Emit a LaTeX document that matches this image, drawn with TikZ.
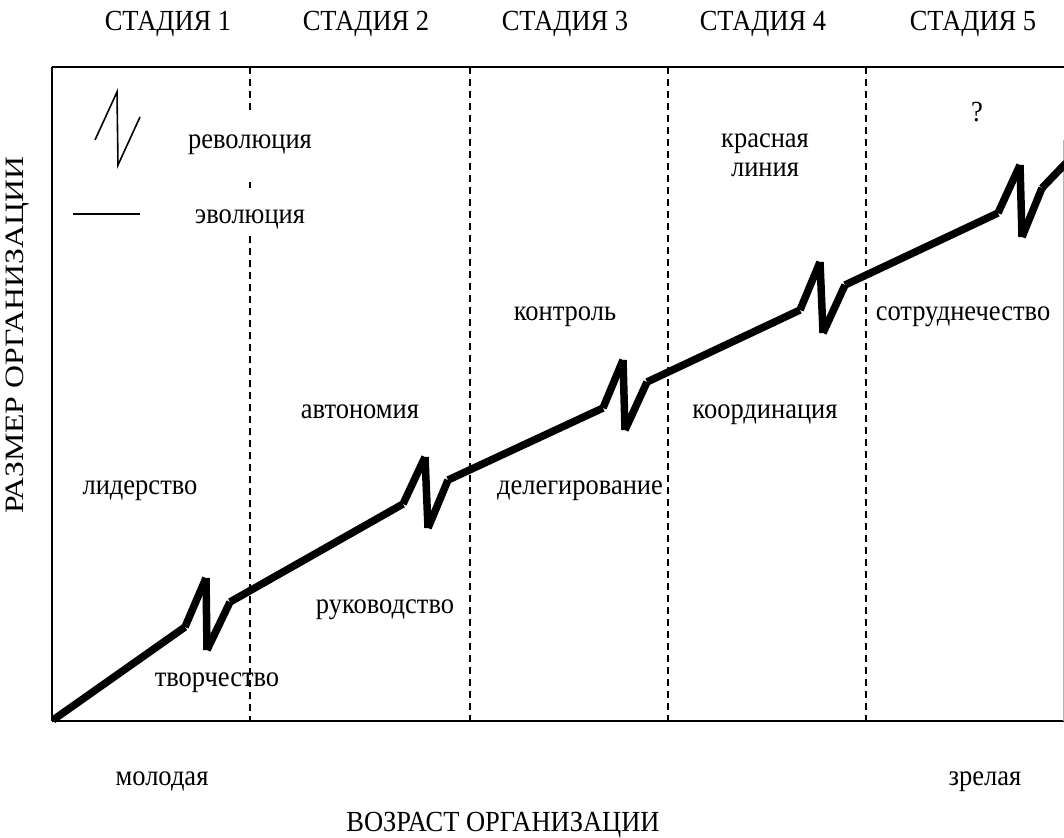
\documentclass[tikz,border=0pt]{standalone}
\usepackage{fontspec}
\setmainfont{Liberation Serif}
\begin{document}
\begin{tikzpicture}[x=1pt,y=-1pt,
  frameline/.style={line width=2pt},
  stagesep/.style={line width=1.3pt, dash pattern=on 7pt off 5pt},
  growth/.style={line width=7.5pt, line cap=butt},
  legendline/.style={line width=1.6pt},
  lbl/.style={font=\fontsize{26.5}{31}\selectfont, inner sep=0pt, anchor=base, yscale=1.1},
]
\useasboundingbox (0,0) rectangle (1064,837);

% frame
\draw[frameline] (52,67) -- (1064,67);
\draw[frameline] (52,67) -- (52,721);
\draw[frameline] (52,721) -- (1064,721);
\draw[line width=1pt, black!30] (1063,140) -- (1063,721);

% stage separators
\draw[stagesep] (250,67) -- (250,112);
\draw[stagesep] (250,182) -- (250,188);
\draw[stagesep] (250,236) -- (250,721);
\draw[stagesep] (470,67) -- (470,721);
\draw[stagesep] (668,67) -- (668,721);
\draw[stagesep] (866,67) -- (866,721);

% growth curve
\coordinate (p0) at (53,720);
\coordinate (a1) at (185,627); \coordinate (b1) at (206,578); \coordinate (c1) at (207,650); \coordinate (d1) at (230,602);
\coordinate (a2) at (403,504); \coordinate (b2) at (425,457); \coordinate (c2) at (428,528); \coordinate (d2) at (448,480);
\coordinate (a3) at (603,408); \coordinate (b3) at (623,360); \coordinate (c3) at (625,430); \coordinate (d3) at (647,382);
\coordinate (a4) at (800,310); \coordinate (b4) at (820,262); \coordinate (c4) at (823,333); \coordinate (d4) at (845,285);
\coordinate (a5) at (998,213); \coordinate (b5) at (1020,165); \coordinate (c5) at (1022,237); \coordinate (d5) at (1042,188);
\coordinate (pe) at (1066,163);

\draw[growth] (p0) -- (a1);
\foreach \i/\n in {1/2,2/3,3/4,4/5}{
  \draw[growth] (a\i) -- (b\i);
  \draw[growth] (b\i) -- (c\i);
  \draw[growth] (c\i) -- (d\i);
  \draw[growth] (d\i) -- (a\n);
}
\draw[growth] (a5) -- (b5);
\draw[growth] (b5) -- (c5);
\draw[growth] (c5) -- (d5);
\draw[growth] (d5) -- (pe);

% legend
\coordinate (l1) at (95,140); \coordinate (l2) at (117,92); \coordinate (l3) at (118,165); \coordinate (l4) at (140,117);
\draw[legendline] (l1) -- (l2) -- (l3) -- (l4);
\coordinate (e1) at (73,214); \coordinate (e2) at (140,214);
\draw[legendline] (e1) -- (e2);
\node[lbl] (rev) at (250,149) {революция};
\node[lbl] (evo) at (250,223) {эволюция};

% stage headings
\node[lbl] (s1) at (168,31) {СТАДИЯ 1};
\node[lbl] (s2) at (366,31) {СТАДИЯ 2};
\node[lbl] (s3) at (565,31) {СТАДИЯ 3};
\node[lbl] (s4) at (763,31) {СТАДИЯ 4};
\node[lbl] (s5) at (973,31) {СТАДИЯ 5};

% labels
\node[lbl] (t1) at (140,494) {лидерство};
\node[lbl] (t2) at (217,686) {творчество};
\node[lbl] (t3) at (360,418) {автономия};
\node[lbl] (t4) at (385,613) {руководство};
\node[lbl] (t5) at (565,320) {контроль};
\node[lbl] (t6) at (580,494) {делегирование};
\node[lbl] (t7) at (765,418) {координация};
\node[lbl] (t8) at (765,148) {красная};
\node[lbl] (t9) at (765,176) {линия};
\node[lbl] (t10) at (963,320) {сотруднечество};
\node[lbl] (t11) at (977,122) {?};

% axes
\node[lbl] (young) at (162,785) {молодая};
\node[lbl] (mature) at (985,785) {зрелая};
\node[lbl] (xlab) at (503,831) {ВОЗРАСТ ОРГАНИЗАЦИИ};
\node[font=\fontsize{26.5}{31}\selectfont, inner sep=0pt, rotate=90, xscale=1.2] (ylab) at (18,335) {РАЗМЕР ОРГАНИЗАЦИИ};
\end{tikzpicture}
\end{document}
